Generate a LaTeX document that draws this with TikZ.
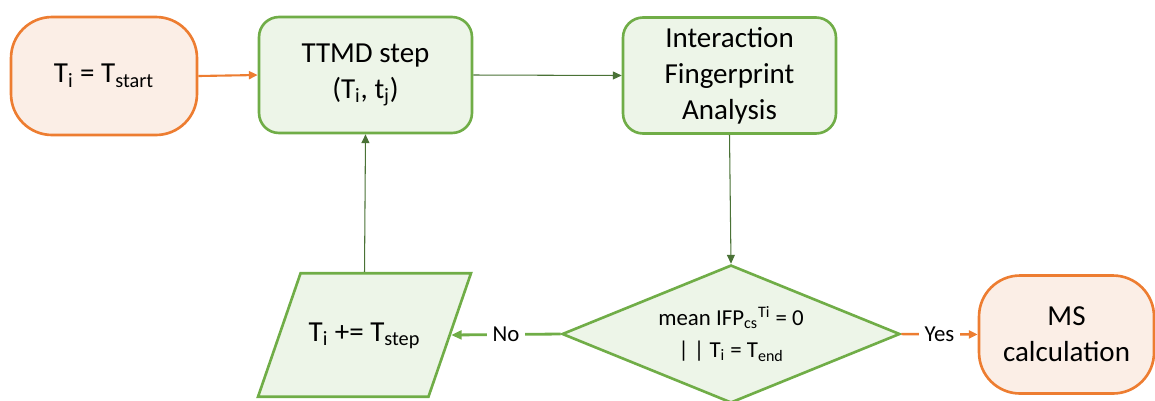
\documentclass[tikz,border=0pt]{standalone}
\usepackage{fontspec}
\setmainfont{Carlito}
\usetikzlibrary{shapes.geometric,arrows.meta}
\definecolor{orgline}{HTML}{ED7D31}
\definecolor{orgfill}{HTML}{FBEEE6}
\definecolor{grnline}{HTML}{70AD47}
\definecolor{grnfill}{HTML}{EDF5E8}
\definecolor{darkgrn}{HTML}{4A7236}
\tikzset{
  terminal/.style={draw=orgline, fill=orgfill, line width=1.5pt, rounded corners=0.82cm,
    minimum width=3.72cm, minimum height=2.36cm, align=center, inner sep=0pt,
    font=\fontsize{16.5}{20.5}\selectfont},
  procbox/.style={draw=grnline, fill=grnfill, line width=1.5pt, rounded corners=0.4cm,
    minimum width=4.26cm, minimum height=2.32cm, align=center, inner sep=0pt,
    font=\fontsize{16.5}{20.5}\selectfont},
  iobox/.style={draw=grnline, fill=grnfill, line width=1.5pt, trapezium,
    trapezium left angle=71, trapezium right angle=109, trapezium stretches body,
    text height=11pt, text depth=4pt, inner ysep=27.65pt, inner xsep=0pt,
    minimum width=4.26cm, font=\fontsize{16.5}{20.5}\selectfont},
  decision/.style={draw=grnline, fill=grnfill, line width=1.5pt, diamond, shape aspect=2.45,
    minimum width=6.76cm, minimum height=2.76cm, inner sep=0pt, align=center,
    font=\fontsize{13}{18}\selectfont},
  darrow/.style={draw=darkgrn, line width=0.6pt, -{Triangle[length=5pt,width=4.5pt]}},
  lbl/.style={fill=white, inner sep=3pt, font=\fontsize{13}{15}\selectfont},
}
\begin{document}
\begin{tikzpicture}[x=0.02cm, y=-0.02cm]
\useasboundingbox (0,0) rectangle (1155,400);
\node[terminal] (start) at (104,76) {T\textsubscript{i} = T\textsubscript{start}};
\node[procbox] (ttmd) at (365.5,75) {TTMD step\\(T\textsubscript{i}, t\textsubscript{j})};
\node[procbox] (ifa) at (729.5,75.5) {Interaction\\Fingerprint\\Analysis};
\node[decision] (dec) at (731,334) {mean IFP\textsubscript{cs}\textsuperscript{Ti} = 0\\| | T\textsubscript{i} = T\textsubscript{end}};
\node[iobox] (inc) at (364.5,335) {T\textsubscript{i} += T\textsubscript{step}};
\node[terminal, minimum width=3.5cm] (ms) at (1066.5,334.5) {MS\\calculation};

\draw[draw=orgline, line width=1.2pt, -{Triangle[length=5pt,width=4.5pt]}] (start.east) -- (ttmd.west);
\draw[darrow] (ttmd.east) -- (ifa.west);
\draw[darrow] (ifa.south) -- (dec.north);
\draw[darrow] (inc.north) -- (ttmd.south);
\draw[draw=grnline, line width=1.6pt, -{Triangle[length=6pt,width=5pt]}] (dec.west) -- node[lbl] {No} (inc.east);
\draw[draw=orgline, line width=1.4pt, -{Triangle[length=5pt,width=4.5pt]}] (dec.east) -- node[lbl] {Yes} (ms.west);
\end{tikzpicture}
\end{document}
